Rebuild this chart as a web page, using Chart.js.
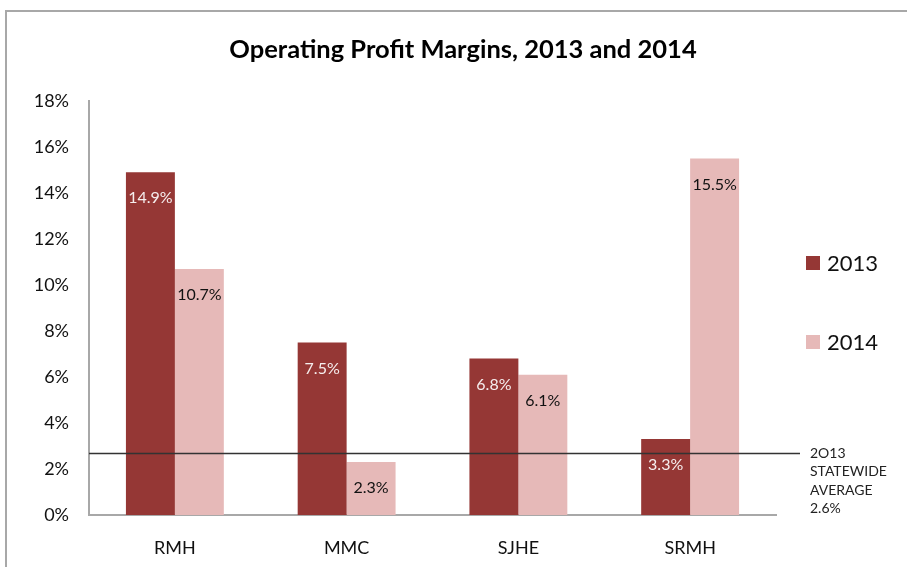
<!DOCTYPE html>
<html>
<head>
<meta charset="utf-8">
<script src="https://cdn.jsdelivr.net/npm/chart.js@4"></script>
<style>
  html, body { margin: 0; padding: 0; background: #fff; }
  #wrap { position: relative; width: 907px; height: 567px; }
  #frame { position: absolute; left: 5px; top: 10px; right: -5px; bottom: -5px; border-left: 2px solid #a8a8a8; border-top: 2px solid #a8a8a8; pointer-events: none; }
</style>
</head>
<body>
<div id="wrap">
  <canvas id="myChart" width="907" height="567"></canvas>
  <div id="frame"></div>
</div>
<script>
const categories = ['RMH', 'MMC', 'SJHE', 'SRMH']
const values2013 = [14.9, 7.5, 6.8, 3.3]
const values2014 = [10.7, 2.3, 6.1, 15.5]
const yTicks = [0, 2, 4, 6, 8, 10, 12, 14, 16, 18]
const statewideAvg = 2.7
const avgLabel = ['2O13', 'STATEWIDE', 'AVERAGE', '2.6%']

const FONT = 'Lato, "Open Sans", sans-serif'

// title, in-bar labels, average line and the legend
const extras = {
    id: 'extras',
    afterDatasetsDraw(chart) {
        const { ctx, chartArea, scales } = chart
        ctx.save()

        // bar labels
        ctx.font = '16px ' + FONT
        ctx.textAlign = 'center'
        ctx.textBaseline = 'middle'
        chart.data.datasets.forEach((ds, i) => {
            chart.getDatasetMeta(i).data.forEach((bar, j) => {
                ctx.fillStyle = i === 0 ? '#f6eeee' : '#111'
                ctx.fillText(ds.data[j].toFixed(1) + '%', bar.x, bar.y + 26)
            })
        })

        // statewide average line
        const ly = Math.round(scales.y.getPixelForValue(statewideAvg)) + 0.5
        ctx.strokeStyle = '#333'
        ctx.lineWidth = 1.5
        ctx.beginPath()
        ctx.moveTo(chartArea.left, ly)
        ctx.lineTo(chartArea.right + 24, ly)
        ctx.stroke()

        ctx.fillStyle = '#222'
        ctx.font = '14px ' + FONT
        ctx.textAlign = 'left'
        avgLabel.forEach((t, k) => ctx.fillText(t, 810, 453 + k * 18.5))

        // title
        ctx.font = 'bold 25.5px ' + FONT
        ctx.textAlign = 'center'
        ctx.fillStyle = '#000'
        ctx.fillText('Operating Profit Margins, 2013 and 2014', 463, 50)

        // legend
        ctx.textAlign = 'left'
        ctx.font = '22px ' + FONT
        chart.data.datasets.forEach((ds, i) => {
            const y = 263 + i * 79
            ctx.fillStyle = ds.backgroundColor
            ctx.fillRect(806, y - 7, 14, 14)
            ctx.fillStyle = '#111'
            ctx.fillText(ds.label, 827, y + 1)
        })
        ctx.restore()
    }
}

new Chart(document.getElementById('myChart'), {
    type: 'bar',
    data: {
        labels: categories,
        datasets: [
            { label: '2013', data: values2013, backgroundColor: '#953735' },
            { label: '2014', data: values2014, backgroundColor: '#e6b9b8' }
        ]
    },
    options: {
        responsive: false,
        animation: false,
        events: [],
        layout: { padding: { top: 101, right: 131, left: 0, bottom: 0 } },
        datasets: { bar: { categoryPercentage: 0.57, barPercentage: 1 } },
        plugins: { legend: { display: false }, tooltip: { enabled: false } },
        scales: {
            x: {
                grid: { display: false, drawTicks: false },
                border: { color: '#a8a8a8', width: 2 },
                ticks: { color: '#111', font: { family: FONT, size: 18 }, padding: 22 },
                afterFit: s => { s.height = 52 }
            },
            y: {
                min: 0,
                max: 18,
                afterBuildTicks: s => { s.ticks = yTicks.map(v => ({ value: v })) },
                grid: { display: false, drawTicks: false },
                border: { color: '#a8a8a8', width: 2 },
                ticks: { color: '#111', font: { family: FONT, size: 18 }, padding: 20, callback: v => v + '%' },
                afterFit: s => { s.width = 89 }
            }
        }
    },
    plugins: [extras]
})
</script>
</body>
</html>
